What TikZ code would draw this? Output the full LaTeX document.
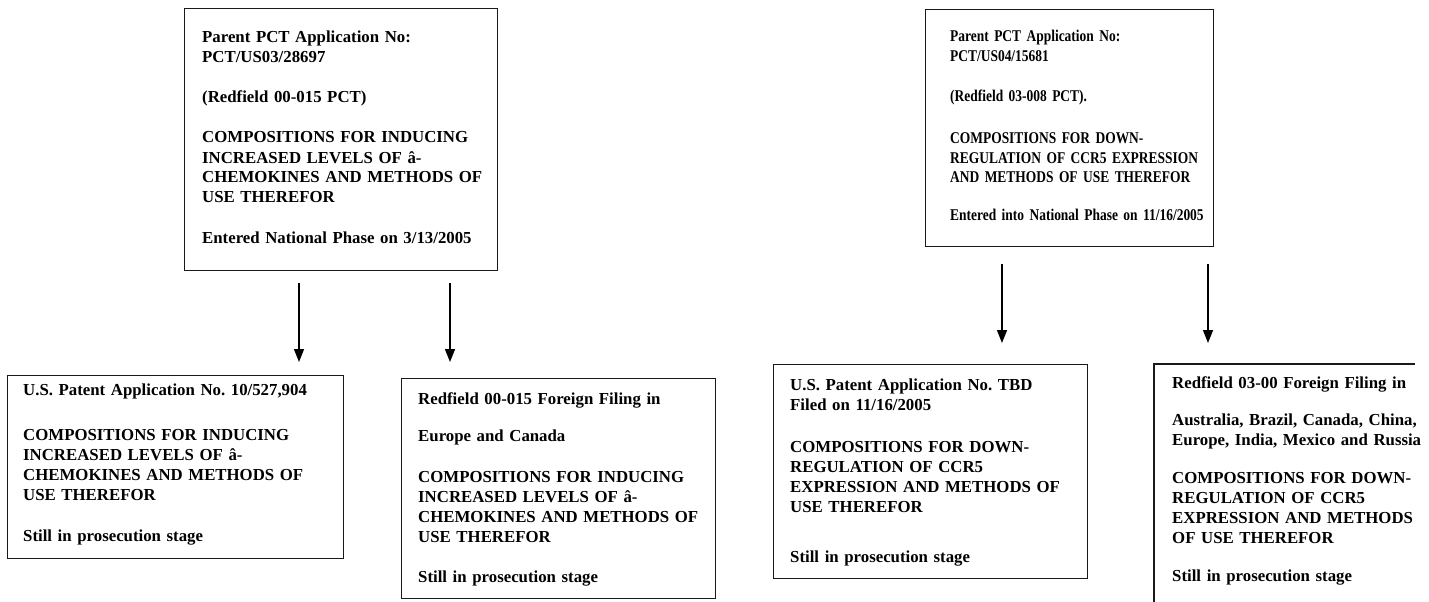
\documentclass[tikz,border=0pt]{standalone}
\usepackage{fontspec}
\setmainfont{Liberation Serif}
\newfontfamily\condserif[FakeStretch=0.82]{Liberation Serif}
\usetikzlibrary{arrows.meta}
\frenchspacing
\begin{document}
\begin{tikzpicture}[x=1pt,y=-1pt,
  box/.style={draw=black!90, line width=1.4pt, anchor=north west, inner sep=0pt},
  txt/.style={anchor=base west, inner sep=0pt, text width=330pt, align=left,
    font=\bfseries\fontsize{16.8}{20}\selectfont},
  condtxt/.style={txt, font=\condserif\bfseries\fontsize{16.4}{20}\selectfont},
  arr/.style={line width=1.4pt, -{Triangle[width=10pt,length=13pt]}}]
\useasboundingbox (0,0) rectangle (1429,602);
\clip (0,0) rectangle (1429,602);
% boxes
\node[box, minimum width=313pt, minimum height=262pt] (A) at (184,8) {};
\node[box, minimum width=288pt, minimum height=237pt] (B) at (925,9) {};
\node[box, minimum width=336pt, minimum height=183pt] (C) at (7,375) {};
\node[box, minimum width=314pt, minimum height=220pt] (D) at (401,378) {};
\node[box, minimum width=314pt, minimum height=214pt] (E) at (773,364) {};
\node[anchor=north west, inner sep=0pt, minimum width=261pt, minimum height=260pt] (F) at (1154,364) {};
\draw[line width=1.4pt, draw=black!90] (F.south west) -- (F.north west) -- (F.north east);
% texts
\node[txt] (At) at (202,43) {Parent PCT Application No:\\PCT/US03/28697\\[20pt](Redfield 00-015 PCT)\\[20pt]COMPOSITIONS FOR INDUCING\\INCREASED LEVELS OF â-\\CHEMOKINES AND METHODS OF\\USE THEREFOR\\[20pt]Entered National Phase on 3/13/2005};
\node[condtxt] (Bt) at (950,42) {Parent PCT Application No:\\PCT/US04/15681\\[19pt](Redfield 03-008 PCT).\\[22pt]COMPOSITIONS FOR DOWN-\\REGULATION OF CCR5 EXPRESSION\\AND METHODS OF USE THEREFOR\\[17pt]Entered into National Phase on 11/16/2005};
\node[txt] (Ct) at (23,395) {U.S. Patent Application No. 10/527,904\\[25pt]COMPOSITIONS FOR INDUCING\\INCREASED LEVELS OF â-\\CHEMOKINES AND METHODS OF\\USE THEREFOR\\[21pt]Still in prosecution stage};
\node[txt] (Dt) at (418,404) {Redfield 00-015 Foreign Filing in\\[17pt]Europe and Canada\\[21pt]COMPOSITIONS FOR INDUCING\\INCREASED LEVELS OF â-\\CHEMOKINES AND METHODS OF\\USE THEREFOR\\[20pt]Still in prosecution stage};
\node[txt] (Et) at (790,390) {U.S. Patent Application No. TBD\\Filed on 11/16/2005\\[22pt]COMPOSITIONS FOR DOWN-\\REGULATION OF CCR5\\EXPRESSION AND METHODS OF\\USE THEREFOR\\[30pt]Still in prosecution stage};
\node[txt] (Ft) at (1172,388) {Redfield 03-00 Foreign Filing in\\[17pt]Australia, Brazil, Canada, China,\\Europe, India, Mexico and Russia\\[18pt]COMPOSITIONS FOR DOWN-\\REGULATION OF CCR5\\EXPRESSION AND METHODS\\OF USE THEREFOR\\[18pt]Still in prosecution stage};
% arrows
\coordinate (a1s) at (299,283); \coordinate (a1e) at (299,362);
\coordinate (a2s) at (450,283); \coordinate (a2e) at (450,362);
\coordinate (b1s) at (1002,264); \coordinate (b1e) at (1002,343);
\coordinate (b2s) at (1208,264); \coordinate (b2e) at (1208,343);
\draw[arr] (a1s) -- (a1e);
\draw[arr] (a2s) -- (a2e);
\draw[arr] (b1s) -- (b1e);
\draw[arr] (b2s) -- (b2e);
\end{tikzpicture}
\end{document}
